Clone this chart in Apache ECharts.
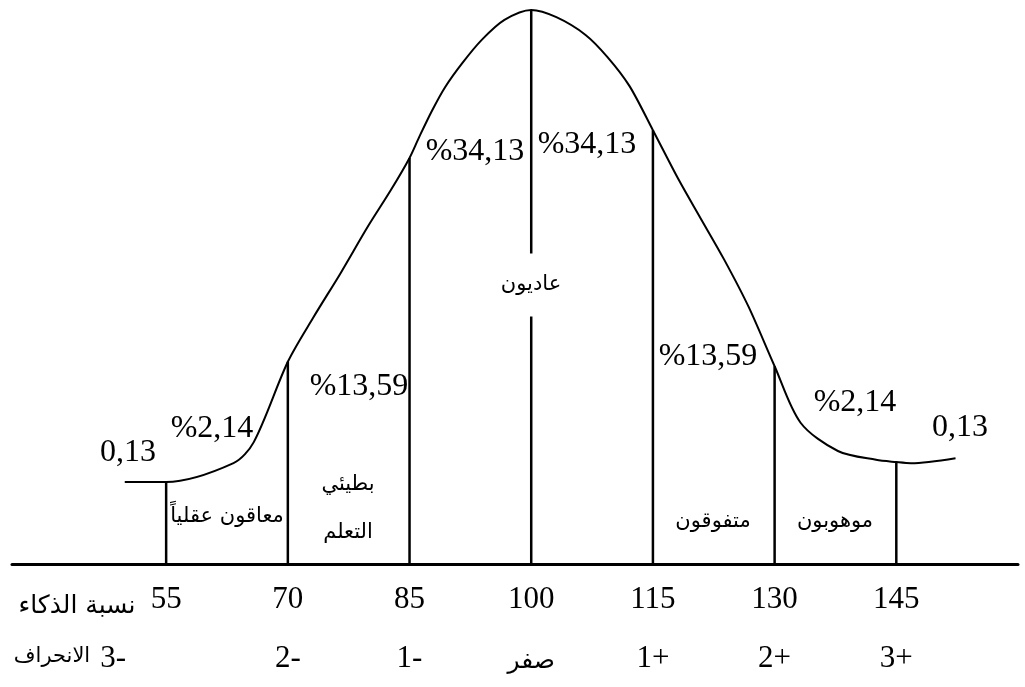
<!DOCTYPE html>
<html><head><meta charset="utf-8">
<script src="https://cdn.jsdelivr.net/npm/echarts@6/dist/echarts.min.js"></script>
<style>html,body{margin:0;padding:0;background:#fff}#c{width:1025px;height:687px}</style>
</head><body><div id="c"></div>
<script>
// IQ boundaries and standard-deviation labels
const iqTicks = [55, 70, 85, 100, 115, 130, 145];
const sdLabels = ['3-', '2-', '1-', 'صفر', '1+', '2+', '3+'];
// curve (IQ, relative height, peak = 100)
const curveIQ = [49.9, 55, 63.3, 65.8, 70, 73.1, 76.5, 79.9, 82.7, 85, 86.2, 87.8, 89.4, 91.5, 93.9, 96.7, 100, 103.1, 106.7, 109.4, 112.1, 115, 118.2, 120.8, 123.8, 126.8, 130, 133.2, 137.8, 142.5, 145, 146.8, 152.3];
const curveHeight = [14.8, 14.8, 18.2, 22.0, 36.5, 44.4, 52.5, 61.0, 67.5, 73.3, 77.1, 81.9, 86.1, 90.4, 94.6, 98.2, 100, 98.7, 95.5, 91.5, 86.3, 78.3, 69.3, 62.6, 54.9, 46.4, 35.7, 25.5, 20.4, 18.8, 18.4, 18.2, 19.1];
// area percentages and group names
const areaPercents = ['0,13', '%2,14', '%13,59', '%34,13', '%34,13', '%13,59', '%2,14', '0,13'];
const groupNames = ['معاقون عقلياً', 'بطيئي\nالتعلم', 'عاديون', 'متفوقون', 'موهوبون'];
const rowTitles = ['نسبة الذكاء', 'الانحراف'];

// layout (pixel positions of annotations)
const percentPos = [[128, 453], [212, 429], [359, 387], [475, 152], [587, 145], [708, 357], [855, 403], [960, 428]];
const groupPos = [[227, 517], [348, 509], [531, 285], [713, 522], [835, 522]];
const rowTitlePos = [[77, 606], [52, 657]];

const boundaryData = iqTicks.map(v => [v, curveHeight[curveIQ.indexOf(v)]]);
const serif = '"Liberation Serif", "Times New Roman", serif';
const arabic = '"DejaVu Sans", sans-serif';

const graphics = [];
areaPercents.forEach((t, i) => graphics.push({
  type: 'text', x: percentPos[i][0], y: percentPos[i][1], z: 100,
  style: { text: t, fontSize: 32, fontFamily: serif, fill: '#000', align: 'center', verticalAlign: 'middle' }
}));
groupNames.forEach((t, i) => graphics.push({
  type: 'text', x: groupPos[i][0], y: groupPos[i][1], z: 100,
  style: Object.assign({ text: t, fontSize: 21, fontFamily: arabic, fill: '#000', align: 'center', verticalAlign: 'middle', lineHeight: 48 },
    i === 2 ? { backgroundColor: '#fff', padding: [19, 6], lineHeight: 25 } : {})
}));
rowTitles.forEach((t, i) => graphics.push({
  type: 'text', x: rowTitlePos[i][0], y: rowTitlePos[i][1], z: 100,
  style: { text: t, fontSize: i === 0 ? 25 : 21, fontFamily: arabic, fill: '#000', align: 'center', verticalAlign: 'middle' }
}));

const chart = echarts.init(document.getElementById('c'), null, { renderer: 'canvas' });
chart.setOption({
  animation: false,
  backgroundColor: '#fff',
  grid: { left: 12, right: 7, top: 10, bottom: 123 },
  xAxis: [{
    type: 'value', min: 36, max: 160, position: 'bottom',
    axisLine: { show: true, onZero: false, lineStyle: { color: '#000', width: 3 } },
    axisTick: { show: false }, splitLine: { show: false },
    axisLabel: { customValues: iqTicks, formatter: v => String(v), color: '#000', fontFamily: serif, fontSize: 31, margin: 20 }
  }, {
    type: 'value', min: 36, max: 160, position: 'bottom',
    axisLine: { show: false }, axisTick: { show: false }, splitLine: { show: false },
    axisLabel: {
      customValues: iqTicks, color: '#000', fontFamily: serif, fontSize: 31, margin: 79,
      formatter: v => {
        const i = iqTicks.indexOf(v);
        if (i < 0) return '';
        if (i === 0) return '{shift|' + sdLabels[i] + '}';
        if (sdLabels[i] === 'صفر') return '{ar|' + sdLabels[i] + '}';
        return sdLabels[i];
      },
      rich: {
        shift: { padding: [0, 106, 0, 0], fontSize: 31, fontFamily: serif, color: '#000' },
        ar: { fontSize: 25, fontFamily: arabic, color: '#000', padding: [6, 0, 0, 0] }
      }
    }
  }],
  yAxis: { type: 'value', min: 0, max: 100, show: false },
  series: [{
    type: 'line', xAxisIndex: 0, data: curveIQ.map((x, i) => [x, curveHeight[i]]),
    symbol: 'none', smooth: 0.3, lineStyle: { color: '#000', width: 2 }, z: 3
  }, {
    type: 'custom', xAxisIndex: 0, data: boundaryData, z: 4,
    renderItem: (params, api) => {
      const p0 = api.coord([api.value(0), 0]);
      const p1 = api.coord([api.value(0), api.value(1)]);
      return { type: 'line', shape: { x1: p0[0], y1: p0[1], x2: p1[0], y2: p1[1] }, style: { stroke: '#000', lineWidth: 2.5 } };
    }
  }],
  graphic: graphics
});
</script></body></html>
